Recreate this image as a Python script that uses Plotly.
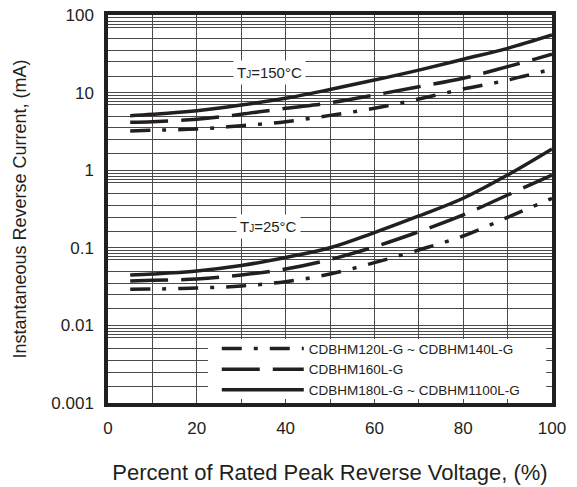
import plotly.graph_objects as go

# ---- data ----
x_pct = [5, 10, 20, 30, 40, 50, 60, 70, 80, 90, 100]

# TJ = 150 C
i150_120_140 = [3.20, 3.27, 3.40, 3.74, 4.22, 5.09, 6.28, 8.28, 11.1, 14.5, 20.1]
i150_160 = [4.14, 4.22, 4.53, 5.25, 6.28, 7.39, 9.31, 11.9, 15.3, 21.6, 31.2]
i150_180_1100 = [5.04, 5.25, 5.85, 6.92, 8.45, 10.96, 14.5, 19.5, 26.9, 37.2, 55.2]

# TJ = 25 C
i25_120_140 = [0.0292, 0.0294, 0.0303, 0.0322, 0.0366, 0.0459, 0.0643, 0.0938, 0.142, 0.247, 0.435]
i25_160 = [0.0373, 0.0381, 0.0396, 0.0446, 0.0533, 0.0706, 0.103, 0.161, 0.265, 0.479, 0.867]
i25_180_1100 = [0.0446, 0.0459, 0.0502, 0.0590, 0.0750, 0.100, 0.157, 0.257, 0.435, 0.867, 1.88]

series_names = ["CDBHM120L-G ~ CDBHM140L-G", "CDBHM160L-G", "CDBHM180L-G ~ CDBHM1100L-G"]
y_tickvals = [0.001, 0.01, 0.1, 1, 10, 100]
y_ticktext = ["0.001", "0.01", "0.1", "1", "10", "100"]
x_tickvals = [0, 20, 40, 60, 80, 100]
temp_labels = ["T<span style='font-size:10px'>J</span>=150°C", "T<span style='font-size:10px'>J</span>=25°C"]

# ---- style ----
INK = "#231f20"
GRID = "#4a4a4a"
FONT = "Liberation Sans, Arial, sans-serif"
dashes = ["20px,12px,4px,12px", "38px,13px", "solid"]
lw = 3.5

# minor horizontal grid positions (fractions of each decade, as drawn in the reference)
fr = [0.915, 0.837, 0.765, 0.70, 0.498, 0.351, 0.248, 0.163]
minor_y = sorted(set([d * f for d in [100, 10, 1, 0.1, 0.01] for f in fr]))

fig = go.Figure()
hot = [i150_120_140, i150_160, i150_180_1100]
cold = [i25_120_140, i25_160, i25_180_1100]
for k in range(3):
    fig.add_trace(go.Scatter(
        x=x_pct, y=hot[k], mode="lines", name=series_names[k],
        legendgroup=series_names[k], showlegend=True,
        line=dict(color=INK, width=lw, dash=dashes[k], shape="spline", smoothing=1.0),
        hoverinfo="skip"))
for k in range(3):
    fig.add_trace(go.Scatter(
        x=x_pct, y=cold[k], mode="lines", name=series_names[k],
        legendgroup=series_names[k], showlegend=False,
        line=dict(color=INK, width=lw, dash=dashes[k], shape="spline", smoothing=1.0),
        hoverinfo="skip"))

fig.add_annotation(x=36.4, y=1.257, xref="x", yref="y", text=temp_labels[0],
                   showarrow=False, bgcolor="white", borderpad=3,
                   font=dict(family=FONT, size=15, color=INK))
fig.add_annotation(x=36.1, y=-0.73, xref="x", yref="y", text=temp_labels[1],
                   showarrow=False, bgcolor="white", borderpad=3,
                   font=dict(family=FONT, size=15, color=INK))

# white panel behind the legend
fig.add_shape(type="rect", xref="paper", yref="paper", x0=0.225, x1=0.987,
              y0=0.0103, y1=0.165, fillcolor="white", line=dict(width=0), layer="above")

fig.update_layout(
    width=577, height=487,
    margin=dict(l=108, r=25, t=15, b=84, autoexpand=False),
    paper_bgcolor="white", plot_bgcolor="white",
    font=dict(family=FONT, color=INK),
    showlegend=True,
    legend=dict(x=0.245, y=-0.006, xanchor="left", yanchor="bottom",
                bgcolor="rgba(0,0,0,0)", borderwidth=0, itemwidth=82,
                font=dict(family=FONT, size=13.5, color=INK),
                tracegroupgap=0, traceorder="normal"),
    xaxis=dict(range=[0, 100], tickmode="array", tickvals=x_tickvals,
               showgrid=True, gridcolor=GRID, gridwidth=1,
               minor=dict(dtick=10, showgrid=True, gridcolor=GRID, gridwidth=1),
               showline=True, mirror=True, linewidth=3.5, linecolor=INK,
               zeroline=False, ticks="", ticklabelstandoff=7, automargin=False,
               tickfont=dict(size=17, family=FONT, color=INK),
               title=dict(text="Percent of Rated Peak Reverse Voltage, (%)",
                          font=dict(size=22, family=FONT, color=INK), standoff=28)),
    yaxis=dict(type="log", range=[-3, 2], tickmode="array",
               tickvals=y_tickvals, ticktext=y_ticktext,
               showgrid=True, gridcolor=GRID, gridwidth=1,
               minor=dict(tickmode="array", tickvals=minor_y, showgrid=True,
                          gridcolor=GRID, gridwidth=1),
               showline=True, mirror=True, linewidth=3.5, linecolor=INK,
               zeroline=False, ticks="", ticklabelstandoff=7, automargin=False,
               tickfont=dict(size=17, family=FONT, color=INK),
               title=dict(text="Instantaneous Reverse Current, (mA)",
                          font=dict(size=18, family=FONT, color=INK), standoff=21)),
)

fig.write_html("out.html")
